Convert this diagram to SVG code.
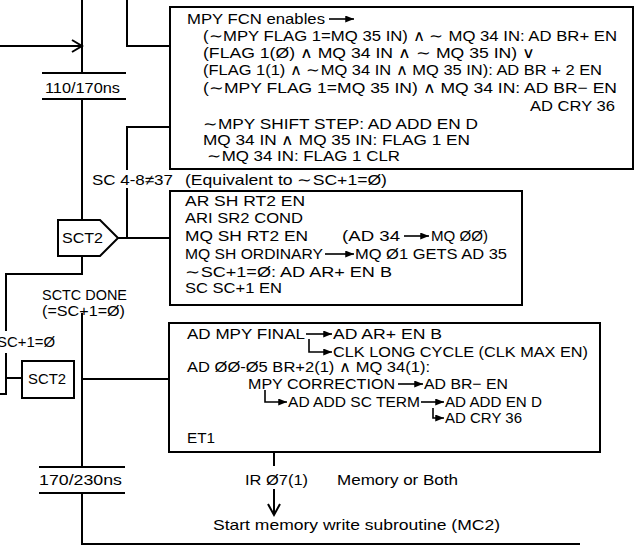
<svg xmlns="http://www.w3.org/2000/svg" width="638" height="550" viewBox="0 0 638 550">
<style>
.t{font-family:"Liberation Sans",Arial,sans-serif;font-size:15px;fill:#000}
.ln{fill:none;stroke:#000;stroke-width:2}
.ia{fill:none;stroke:#000;stroke-width:1.6;marker-end:url(#ah)}
.bx{fill:#fff;stroke:#000;stroke-width:2}
</style>
<defs>
<marker id="ah" viewBox="0 0 10 8" refX="10" refY="4" markerWidth="9" markerHeight="7" markerUnits="userSpaceOnUse" orient="auto">
<path d="M0,0 L10,4 L0,8 z" fill="#000"/>
</marker>
</defs>
<rect width="638" height="550" fill="#fff"/>

<g id="connectors">
<path class="ln" d="M0,46 H82 M72,40 L82,46 L72,52"/>
<path class="ln" d="M82,0 V73 M42,73 H126 M42,99 H126 M82,99 V220"/>
<path class="ln" d="M127,0 V46 H170"/>
<path class="ln" d="M170,127 H127 V170 M127,188 V238 M118,238 H170"/>
<path class="ln" d="M82,256 V274 H6 V331 M6,353 V394 H0 M6,378 H22"/>
<path class="ln" d="M82,313 V467 M82,379 H169"/>
<path class="ln" d="M39,467 H125 M39,493 H125 M82,493 V544 H580"/>
<path class="ln" d="M274,452 V466 M274,489 V515 M268,504 L274,515 L280,504"/>
</g>

<g id="timing1"><text class="t" x="45" y="93" textLength="75" lengthAdjust="spacingAndGlyphs">110/170ns</text></g>
<g id="timing2"><text class="t" x="39" y="485" textLength="83" lengthAdjust="spacingAndGlyphs">170/230ns</text></g>

<g id="sct2a">
<path class="bx" d="M58,220 H100 L118,238 L100,256 H58 Z"/>
<text class="t" x="62" y="243" textLength="41" lengthAdjust="spacingAndGlyphs">SCT2</text>
</g>

<g id="sct2b">
<rect class="bx" x="22" y="361" width="52" height="37"/>
<text class="t" x="28" y="384" textLength="38" lengthAdjust="spacingAndGlyphs">SCT2</text>
</g>

<g id="labels">
<text class="t" x="92" y="185" textLength="81" lengthAdjust="spacingAndGlyphs">SC 4-8≠37</text>
<text class="t" x="185" y="185" textLength="202" lengthAdjust="spacingAndGlyphs">(Equivalent to ∼SC+1=Ø)</text>
<text class="t" x="42" y="300" textLength="85" lengthAdjust="spacingAndGlyphs">SCTC DONE</text>
<text class="t" x="42" y="316" textLength="83" lengthAdjust="spacingAndGlyphs">(=SC+1=Ø)</text>
<text class="t" x="-3" y="347" textLength="58" lengthAdjust="spacingAndGlyphs">SC+1=Ø</text>
<text class="t" x="245" y="485" textLength="63" lengthAdjust="spacingAndGlyphs">IR Ø7(1)</text>
<text class="t" x="337" y="485" textLength="121" lengthAdjust="spacingAndGlyphs">Memory or Both</text>
<text class="t" x="213" y="530" textLength="287" lengthAdjust="spacingAndGlyphs">Start memory write subroutine (MC2)</text>
</g>

<g id="box1">
<rect class="bx" x="170" y="7" width="463" height="162"/>
<text class="t" x="187" y="24" textLength="138" lengthAdjust="spacingAndGlyphs">MPY FCN enables</text>
<path class="ia" d="M329,19 H354"/>
<text class="t" x="203" y="41" textLength="414" lengthAdjust="spacingAndGlyphs">(∼MPY FLAG 1=MQ 35 IN) ∧ ∼ MQ 34 IN: AD BR+ EN</text>
<text class="t" x="203" y="58" textLength="332" lengthAdjust="spacingAndGlyphs">(FLAG 1(Ø) ∧ MQ 34 IN ∧ ∼ MQ 35 IN) ∨</text>
<text class="t" x="203" y="75" textLength="399" lengthAdjust="spacingAndGlyphs">(FLAG 1(1) ∧ ∼MQ 34 IN ∧ MQ 35 IN): AD BR + 2 EN</text>
<text class="t" x="203" y="93" textLength="414" lengthAdjust="spacingAndGlyphs">(∼MPY FLAG 1=MQ 35 IN) ∧ MQ 34 IN: AD BR− EN</text>
<text class="t" x="530" y="111" textLength="85" lengthAdjust="spacingAndGlyphs">AD CRY 36</text>
<text class="t" x="203" y="129" textLength="275" lengthAdjust="spacingAndGlyphs">∼MPY SHIFT STEP: AD ADD EN D</text>
<text class="t" x="203" y="145" textLength="267" lengthAdjust="spacingAndGlyphs">MQ 34 IN ∧ MQ 35 IN: FLAG 1 EN</text>
<text class="t" x="207" y="161" textLength="193" lengthAdjust="spacingAndGlyphs">∼MQ 34 IN: FLAG 1 CLR</text>
</g>

<g id="box2">
<rect class="bx" x="170" y="191" width="352" height="114"/>
<text class="t" x="185" y="206" textLength="120" lengthAdjust="spacingAndGlyphs">AR SH RT2 EN</text>
<text class="t" x="185" y="223" textLength="118" lengthAdjust="spacingAndGlyphs">ARI SR2 COND</text>
<text class="t" x="185" y="241" textLength="123" lengthAdjust="spacingAndGlyphs">MQ SH RT2 EN</text>
<text class="t" x="342" y="241" textLength="58" lengthAdjust="spacingAndGlyphs">(AD 34</text>
<path class="ia" d="M404,236 H429"/>
<text class="t" x="431" y="241" textLength="57" lengthAdjust="spacingAndGlyphs">MQ ØØ)</text>
<text class="t" x="185" y="259" textLength="138" lengthAdjust="spacingAndGlyphs">MQ SH ORDINARY</text>
<path class="ia" d="M325,254 H354"/>
<text class="t" x="355" y="259" textLength="152" lengthAdjust="spacingAndGlyphs">MQ Ø1 GETS AD 35</text>
<text class="t" x="185" y="277" textLength="207" lengthAdjust="spacingAndGlyphs">∼SC+1=Ø: AD AR+ EN B</text>
<text class="t" x="185" y="293" textLength="97" lengthAdjust="spacingAndGlyphs">SC SC+1 EN</text>
</g>

<g id="box3">
<rect class="bx" x="169" y="323" width="431" height="129"/>
<text class="t" x="187" y="339" textLength="118" lengthAdjust="spacingAndGlyphs">AD MPY FINAL</text>
<path class="ia" d="M306,334 H332"/>
<text class="t" x="333" y="339" textLength="109" lengthAdjust="spacingAndGlyphs">AD AR+ EN B</text>
<path class="ia" d="M309,339 V352 H332"/>
<text class="t" x="333" y="357" textLength="255" lengthAdjust="spacingAndGlyphs">CLK LONG CYCLE (CLK MAX EN)</text>
<text class="t" x="187" y="372" textLength="243" lengthAdjust="spacingAndGlyphs">AD ØØ-Ø5 BR+2(1) ∧ MQ 34(1):</text>
<text class="t" x="248" y="389" textLength="147" lengthAdjust="spacingAndGlyphs">MPY CORRECTION</text>
<path class="ia" d="M398,384 H423"/>
<text class="t" x="424" y="389" textLength="84" lengthAdjust="spacingAndGlyphs">AD BR−  EN</text>
<path class="ia" d="M265,390 V402 H287"/>
<text class="t" x="288" y="407" textLength="132" lengthAdjust="spacingAndGlyphs">AD ADD SC TERM</text>
<path class="ia" d="M421,402 H444"/>
<text class="t" x="445" y="407" textLength="97" lengthAdjust="spacingAndGlyphs">AD ADD EN D</text>
<path class="ia" d="M433,408 V418 H444"/>
<text class="t" x="445" y="423">AD CRY 36</text>
<text class="t" x="187" y="443" textLength="28" lengthAdjust="spacingAndGlyphs">ET1</text>
</g>
</svg>
